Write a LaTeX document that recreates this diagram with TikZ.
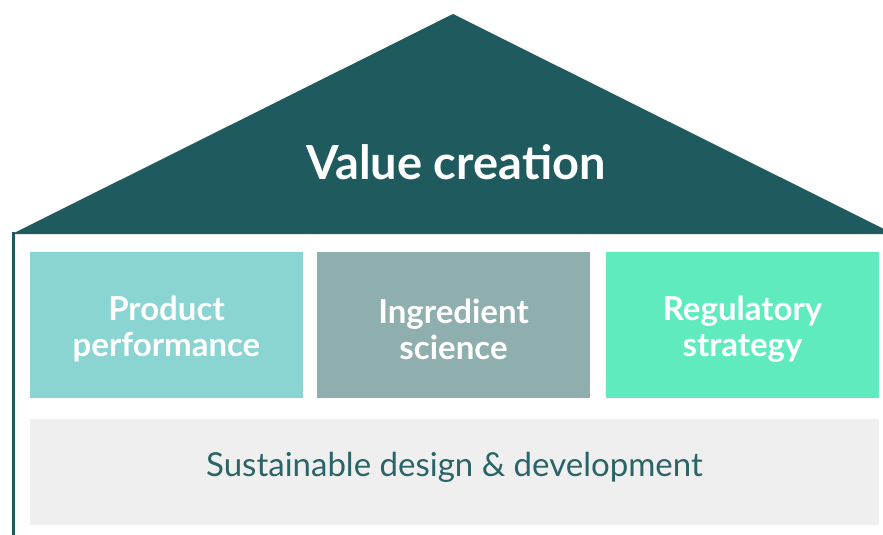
\documentclass[tikz,border=0pt]{standalone}
\usepackage{fontspec}
\setmainfont{Lato}
\definecolor{roofc}{HTML}{1F5B5E}
\definecolor{perfc}{HTML}{8AD4D2}
\definecolor{ingrc}{HTML}{8FAEAE}
\definecolor{regc}{HTML}{60EBBF}
\definecolor{basec}{HTML}{EFEFEF}
\definecolor{basetext}{HTML}{2B6466}
\tikzstyle{pillar}=[inner sep=0pt, minimum width=273, minimum height=146]
\tikzstyle{pillartext}=[inner sep=0pt, text width=260, align=center, text=white, font=\bfseries\fontsize{33}{36}\selectfont]
\tikzstyle{found}=[inner sep=0pt, minimum width=849, minimum height=106, fill=basec]

\begin{document}
\begin{tikzpicture} [x=1pt, y=-1pt]
%%position
\useasboundingbox (0,0) rectangle (883,535);
%%roof
\begin{scope}
\clip (0,0) rectangle (883,535);
\fill [roofc] (12,234) -- (453,14) -- (894,234) -- cycle;
\end{scope}
\node[text=white, font=\bfseries\fontsize{47}{52}\selectfont] (title) at (456,162) {Value creation};
%%wall
\coordinate (walltop) at (13.5,232);
\coordinate (wallbot) at (13.5,535);
\draw [roofc, line width=3] (walltop) -- (wallbot);
%%pillars
\node[pillar, fill=perfc] (perf) at (166.5,325) {};
\node[pillar, fill=ingrc] (ingr) at (453.5,325) {};
\node[pillar, fill=regc] (reg) at (742.5,325) {};
\node[pillartext] (perftext) at (166.5,329) {Product\\performance};
\node[pillartext] (ingrtext) at (453.5,329) {Ingredient\\science};
\node[pillartext] (regtext) at (742.5,329) {Regulatory\\strategy};
%%base
\node[found] (base) at (454.5,472) {};
\node[text=basetext, font=\fontsize{33}{38}\selectfont] (basetitle) at (454.5,467) {Sustainable design \& development};
\end{tikzpicture}
\end{document}
